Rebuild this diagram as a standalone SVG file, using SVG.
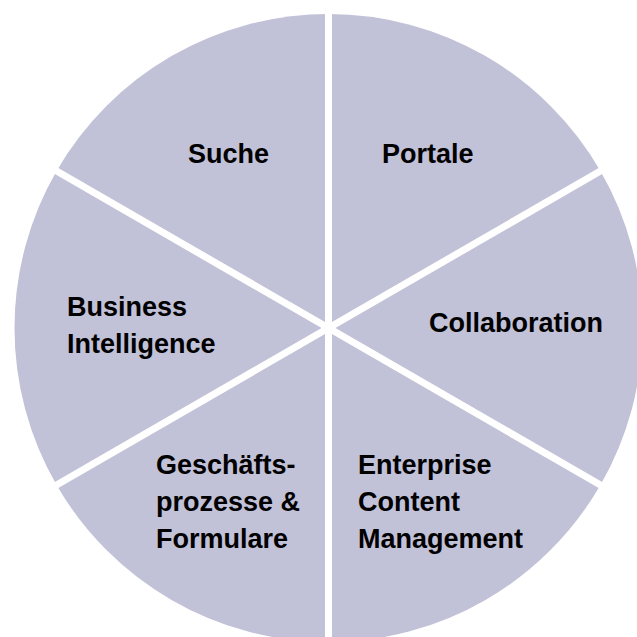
<svg xmlns="http://www.w3.org/2000/svg" width="637" height="637" viewBox="0 0 637 637">
<style>
.sec{fill:#c1c1d7;}
.lbl{font-family:"Liberation Sans",Arial,sans-serif;font-weight:bold;font-size:27px;fill:#000;}
.sep{stroke:#fff;stroke-width:7;fill:none;}
</style>
<rect width="637" height="637" fill="#fff"/>
<g id="portale"><path class="sec" d="M328.5 328 L328.5 14 A314 314 0 0 1 600.43 171 Z"/><text class="lbl" x="382" y="163">Portale</text></g>
<g id="collaboration"><path class="sec" d="M328.5 328 L600.43 171 A314 314 0 0 1 600.43 485 Z"/><text class="lbl" x="429" y="332">Collaboration</text></g>
<g id="ecm"><path class="sec" d="M328.5 328 L600.43 485 A314 314 0 0 1 328.5 642 Z"/><text class="lbl" x="358"><tspan x="358" y="474">Enterprise</tspan><tspan x="358" y="511">Content</tspan><tspan x="358" y="548">Management</tspan></text></g>
<g id="geschaeftsprozesse"><path class="sec" d="M328.5 328 L328.5 642 A314 314 0 0 1 56.57 485 Z"/><text class="lbl" x="156"><tspan x="156" y="474">Geschäfts-</tspan><tspan x="156" y="511">prozesse &amp;</tspan><tspan x="156" y="548">Formulare</tspan></text></g>
<g id="bi"><path class="sec" d="M328.5 328 L56.57 485 A314 314 0 0 1 56.57 171 Z"/><text class="lbl" x="67"><tspan x="67" y="316">Business</tspan><tspan x="67" y="353">Intelligence</tspan></text></g>
<g id="suche"><path class="sec" d="M328.5 328 L56.57 171 A314 314 0 0 1 328.5 14 Z"/><text class="lbl" x="188" y="163">Suche</text></g>
<g id="connectors">
<line class="sep" x1="328.5" y1="328" x2="328.5" y2="0"/>
<line class="sep" x1="328.5" y1="328" x2="328.5" y2="650"/>
<line class="sep" x1="328.5" y1="328" x2="614.3" y2="163"/>
<line class="sep" x1="328.5" y1="328" x2="614.3" y2="493"/>
<line class="sep" x1="328.5" y1="328" x2="42.7" y2="163"/>
<line class="sep" x1="328.5" y1="328" x2="42.7" y2="493"/>
</g>
</svg>
